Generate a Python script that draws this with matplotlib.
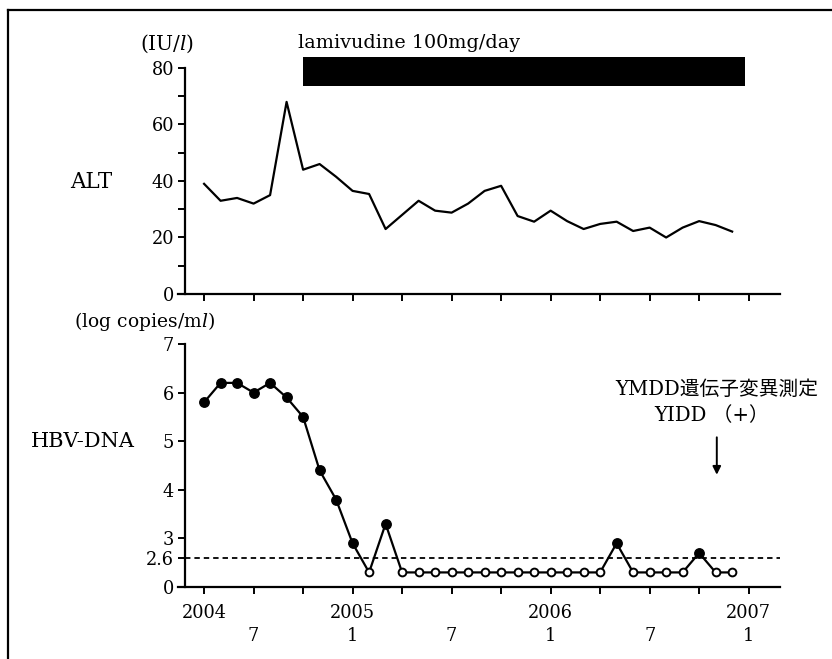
import numpy as np
import matplotlib
matplotlib.use("Agg")
import matplotlib.pyplot as plt
from matplotlib.lines import Line2D

plt.rcParams['font.family'] = ['DejaVu Serif', 'Noto Sans CJK JP']
plt.rcParams['mathtext.fontset'] = 'dejavuserif'

# months counted from Jan 2004 = 1
months = [4, 5, 6, 7, 8, 9, 10, 11, 12, 13, 14, 15, 16, 17, 18, 19, 20,
          21, 22, 23, 24, 25, 26, 27, 28, 29, 30, 31, 32, 33, 34, 35, 36]

alt = [39, 33, 34, 32, 35, 68, 44, 46, 41.5, 36.5, 35.4, 23, 28, 33, 29.5,
       28.8, 32, 36.5, 38.3, 27.6, 25.6, 29.5, 25.8, 23, 24.8, 25.6, 22.3,
       23.5, 20, 23.5, 25.8, 24.4, 22.1]

# values below detection limit drawn at the "<2.6" level
hbv_dna = [5.8, 6.2, 6.2, 6.0, 6.2, 5.9, 5.5, 4.4, 3.8, 2.9, 2.3, 3.3, 2.3,
           2.3, 2.3, 2.3, 2.3, 2.3, 2.3, 2.3, 2.3, 2.3, 2.3, 2.3, 2.3, 2.9,
           2.3, 2.3, 2.3, 2.3, 2.7, 2.3, 2.3]
detected = [True] * 10 + [False, True] + [False] * 13 + [True] + [False] * 4 \
           + [True, False, False]

detect_limit = 2.6
lamivudine_start, lamivudine_end = 10, 36.75
ymdd_month = 35.07

xtick_pos = [4, 7, 10, 13, 16, 19, 22, 25, 28, 31, 34, 37]
xtick_lab = ["2004\n ", " \n7", "", "2005\n1", "", " \n7", "", "2006\n1", "",
             " \n7", "", "2007\n1"]

hbv_ticks = [2.0, 2.6, 3, 4, 5, 6, 7]
hbv_tick_lab = ["0", "2.6", "3", "4", "5", "6", "7"]

W, H = 832, 659
fig = plt.figure(figsize=(W / 100, H / 100), dpi=100)

xl = (2.42, 38.9)
spine_x = 2.85

ax1 = fig.add_axes([178 / W, 1 - 294 / H, 602 / W, 226 / H])
ax2 = fig.add_axes([178 / W, 1 - 587 / H, 602 / W, 243 / H])

for ax in (ax1, ax2):
    ax.set_xlim(*xl)
    ax.spines['top'].set_visible(False)
    ax.spines['right'].set_visible(False)
    ax.spines['left'].set_position(('data', spine_x))
    ax.spines['left'].set_linewidth(1.6)
    ax.spines['bottom'].set_linewidth(1.6)
    ax.set_xticks(xtick_pos)
    ax.tick_params(direction='out', length=5, width=1.4, labelsize=12.8)
    ax.tick_params(axis='x', pad=7)
    ax.tick_params(axis='y', pad=3)

# top panel: ALT
ax1.plot(months, alt, color='black', lw=1.6)
ax1.set_ylim(0, 80)
ax1.set_yticks([0, 20, 40, 60, 80])
ax1.set_yticks([10, 30, 50, 70], minor=True)
ax1.tick_params(which='minor', direction='out', length=5, width=1.4)
ax1.set_xticklabels([])
ax1.bar((lamivudine_start + lamivudine_end) / 2, 10.1, bottom=73.7,
        width=lamivudine_end - lamivudine_start, color='black',
        clip_on=False)
ax1.text(9.68, 88.8, "lamivudine 100mg/day", fontsize=13.8, va='center',
         ha='left', clip_on=False)

# bottom panel: HBV-DNA
ax2.plot(months, hbv_dna, color='black', lw=1.6, zorder=2)
m = np.array(months)
v = np.array(hbv_dna)
d = np.array(detected)
ax2.plot(m[d], v[d], 'o', color='black', ms=6.8, zorder=3)
ax2.plot(m[~d], v[~d], 'o', mfc='white', mec='black', mew=1.4, ms=5.6,
         zorder=3)
x0 = (spine_x - xl[0]) / (xl[1] - xl[0])
ax2.axhline(detect_limit, xmin=x0, xmax=1, color='black', lw=1.3,
            ls=(0, (3, 2.2)), zorder=1)
ax2.set_ylim(2.0, 7.0)
ax2.set_yticks(hbv_ticks)
ax2.set_yticklabels(hbv_tick_lab)
ax2.set_xticklabels(xtick_lab, linespacing=1.35)

ax2.text(ymdd_month, 6.06, "YMDD遺伝子変異測定", fontsize=14.2, ha='center',
         va='center')
ax2.text(ymdd_month - 0.3, 5.53, "YIDD （+）", fontsize=14.2, ha='center',
         va='center')
ax2.annotate("", xy=(ymdd_month, 4.31), xytext=(ymdd_month, 5.08),
             arrowprops=dict(arrowstyle='-|>', color='black', lw=1.4,
                             mutation_scale=12, shrinkA=0, shrinkB=0))

# axis titles
fig.text(167.5 / W, 1 - 43.3 / H, "(IU/$l$)", fontsize=14.5, ha='center',
         va='center')
fig.text(91.7 / W, 1 - 181.7 / H, "ALT", fontsize=15.5, ha='center',
         va='center')
fig.text(145 / W, 1 - 321.7 / H, "(log copies/m$l$)", fontsize=13.5,
         ha='center', va='center')
fig.text(83 / W, 1 - 441.7 / H, "HBV-DNA", fontsize=15, ha='center',
         va='center')

# frame
fig.add_artist(Line2D([8 / W, 8 / W], [0, 1 - 9.5 / H], color='black',
                      lw=1.6, transform=fig.transFigure))
fig.add_artist(Line2D([8 / W, 1], [1 - 9.5 / H, 1 - 9.5 / H], color='black',
                      lw=1.6, transform=fig.transFigure))

fig.savefig("out.png", dpi=100)
